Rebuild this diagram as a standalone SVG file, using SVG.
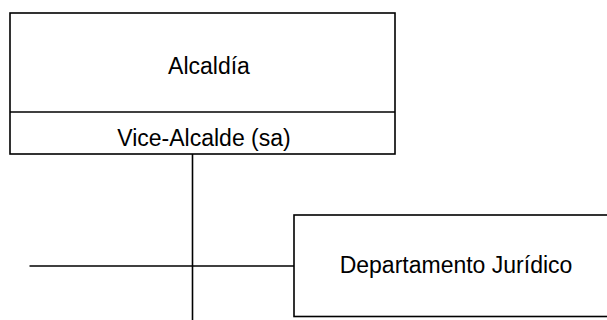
<svg xmlns="http://www.w3.org/2000/svg" width="607" height="320" viewBox="0 0 607 320">
<style>
.box{fill:#fff;stroke:#000;stroke-width:1.6}
.ln{fill:none;stroke:#000;stroke-width:1.6}
text{font-family:"Liberation Sans",Arial,sans-serif;font-size:23px;fill:#000;text-anchor:middle}
</style>
<rect width="607" height="320" fill="#fff"/>
<g id="connectors">
<line class="ln" x1="192.5" y1="154" x2="192.5" y2="320"/>
<line class="ln" x1="29.5" y1="266" x2="294" y2="266"/>
</g>
<g id="alcaldia">
<rect class="box" x="10" y="13" width="385" height="141"/>
<line class="ln" x1="10" y1="112" x2="395" y2="112"/>
<text x="209" y="73.5">Alcaldía</text>
<text x="204" y="145.5">Vice-Alcalde (sa)</text>
</g>
<g id="departamento">
<rect class="box" x="294" y="215" width="330" height="101.5"/>
<text x="456" y="273">Departamento Jurídico</text>
</g>
</svg>
